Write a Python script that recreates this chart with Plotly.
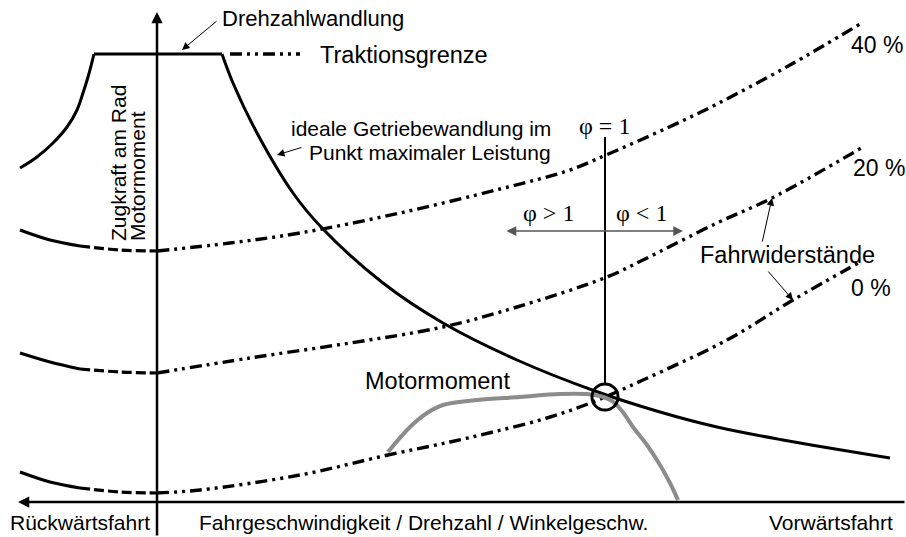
import plotly.graph_objects as go

# Coordinates: x = vehicle speed (reverse < 0 < forward), y = tractive force / torque.
# Axis origin is where the speed axis and the force axis cross.
X_RANGE = [-15.7, 74.9]
Y_RANGE = [-3.5, 50.2]

# Traction limit envelope (reverse branch, flat "Drehzahlwandlung" part, ideal transmission hyperbola)
trac_rev_x = [-13.7, -12.0, -10.4, -9.0, -8.0, -7.4, -6.9, -6.5, -6.3]
trac_rev_y = [33.4, 34.5, 35.9, 37.5, 39.2, 40.9, 42.5, 44.0, 44.8]
trac_flat_x = [-6.3, 6.5]
trac_flat_y = [44.8, 44.8]
hyper_x = [6.5, 7.6, 10.0, 13.6, 16.5, 22.6, 28.6, 36.0, 43.8, 50.3, 56.0, 62.6, 73.3]
hyper_y = [44.8, 41.9, 36.9, 30.9, 27.4, 21.9, 17.9, 14.2, 11.1, 9.0, 7.5, 6.2, 4.4]
trac_ext_x = [7.3, 14.3]
trac_ext_y = [44.8, 44.8]

# Driving resistance curves for 40 %, 20 % and 0 % grade
grade_labels = ["40 %", "20 %", "0 %"]
rev_x = [-13.7, -10.7, -7.7, -3.7, 0.0]
r40_rev_y = [27.2, 26.2, 25.6, 25.2, 25.1]
r20_rev_y = [14.9, 14.0, 13.3, 13.0, 12.9]
r0_rev_y = [3.0, 2.0, 1.4, 1.0, 0.9]
r40_x = [0.0, 7.3, 14.3, 24.3, 34.3, 41.0, 44.9, 51.0, 56.0, 63.3, 70.3]
r40_y = [25.1, 25.9, 26.9, 28.9, 31.3, 33.1, 34.7, 37.4, 39.8, 43.7, 47.8]
r20_x = [0.0, 9.3, 19.3, 28.6, 36.0, 45.0, 48.6, 56.0, 61.5, 70.6]
r20_y = [12.9, 14.4, 15.9, 17.5, 19.5, 22.5, 24.2, 27.9, 30.4, 35.5]
r0_x = [0.0, 4.3, 14.3, 23.1, 29.3, 33.6, 39.0, 43.6, 48.6, 57.0, 63.6, 70.3]
r0_y = [0.9, 1.2, 2.7, 4.7, 6.0, 7.0, 8.4, 10.0, 12.2, 16.2, 20.2, 24.0]

# Engine torque curve
motor_x = [23.1, 25.3, 27.0, 28.6, 32.0, 36.3, 40.3, 43.8, 45.5, 46.5, 47.6, 49.0, 50.3, 51.3, 52.1]
motor_y = [5.0, 7.5, 8.9, 9.7, 10.2, 10.5, 10.8, 10.7, 10.1, 9.1, 7.5, 5.7, 3.7, 1.9, 0.2]

# Operating point (phi = 1) where engine torque, hyperbola and 0 % resistance meet
op_x, op_y = 44.8, 10.5
op_r = 1.3

SANS = "Liberation Sans, Arial, sans-serif"
SERIF = "Liberation Serif, Times New Roman, serif"
BLACK = "#000000"
GREY = "#8c8c8c"
DASHDOT = "12px,5px,3px,5px,3px,5px"
LONGDASH = "10px,4px"

fig = go.Figure()


def add_line(x, y, width=3, color=BLACK, dash="solid", shape="spline"):
    fig.add_trace(go.Scatter(
        x=x, y=y, mode="lines", hoverinfo="skip",
        line=dict(color=color, width=width, dash=dash, shape=shape),
    ))


# traction envelope
add_line(trac_rev_x, trac_rev_y)
add_line(trac_flat_x, trac_flat_y, shape="linear")
add_line(hyper_x, hyper_y)
add_line(trac_ext_x, trac_ext_y, width=3.4, dash=DASHDOT, shape="linear")

# resistance curves: solid / dashed in reverse, dash-dot forward
for ry, fx, fy in [(r40_rev_y, r40_x, r40_y), (r20_rev_y, r20_x, r20_y), (r0_rev_y, r0_x, r0_y)]:
    add_line(rev_x[:3], ry[:3])
    add_line(rev_x[2:], ry[2:], width=3.2, dash=LONGDASH)
    add_line(fx, fy, width=3.4, dash=DASHDOT)

# engine torque
add_line(motor_x, motor_y, width=4, color=GREY)

shapes = [
    # phi = 1 marker line down to the operating point circle
    dict(type="line", xref="x", yref="y", x0=op_x, x1=op_x, y0=36.5, y1=op_y + op_r,
         line=dict(color=BLACK, width=2)),
    dict(type="circle", xref="x", yref="y", x0=op_x - op_r, x1=op_x + op_r,
         y0=op_y - op_r, y1=op_y + op_r, line=dict(color=BLACK, width=3)),
]

annotations = []


def arrow(x, y, ax, ay, width=1.0, head=2, size=1.5, color=BLACK, side="end"):
    annotations.append(dict(
        x=x, y=y, ax=ax, ay=ay, xref="x", yref="y", axref="x", ayref="y",
        text="", showarrow=True, arrowhead=head, startarrowhead=head,
        arrowsize=size, startarrowsize=size, arrowwidth=width,
        arrowcolor=color, arrowside=side, standoff=0, startstandoff=0,
    ))


def label(x, y, text, size=21, xanchor="left", yanchor="middle", family=SANS, angle=0):
    annotations.append(dict(
        x=x, y=y, xref="x", yref="y", text=text, showarrow=False,
        xanchor=xanchor, yanchor=yanchor, textangle=angle,
        font=dict(family=family, size=size, color=BLACK),
    ))


# axes with arrow heads
arrow(0.0, 49.0, 0.0, Y_RANGE[0], width=2.5, head=2, size=0.9)
arrow(-13.9, 0.0, X_RANGE[1], 0.0, width=2.5, head=2, size=0.9)

# pointer arrows
arrow(2.5, 45.2, 6.1, 48.2)
arrow(12.0, 34.7, 14.6, 35.5)
arrow(61.5, 30.4, 60.5, 25.9)
arrow(63.6, 20.2, 61.0, 23.2)
arrow(52.6, 27.1, 34.8, 27.1, width=1.5, color="#555555", side="end+start", size=1.3)

# text
label(6.3, 48.4, "Drehzahlwandlung", size=22)
label(16.1, 44.7, "Traktionsgrenze", size=23.5)
label(39.6, 37.4, "ideale Getriebewandlung im", xanchor="right")
label(39.6, 35.0, "Punkt maximaler Leistung", xanchor="right")
label(44.7, 37.6, "φ = 1", size=24, xanchor="center", family=SERIF)
label(39.1, 28.9, "φ > 1", size=24, xanchor="center", family=SERIF)
label(48.4, 28.9, "φ < 1", size=24, xanchor="center", family=SERIF)
label(54.1, 24.7, "Fahrwiderstände", size=23.5)
label(69.2, 45.7, grade_labels[0], size=23)
label(69.4, 33.4, grade_labels[1], size=23)
label(69.2, 21.4, grade_labels[2], size=23)
label(20.6, 12.1, "Motormoment", size=23.5)
label(-3.9, 25.9, "Zugkraft am Rad", xanchor="center", yanchor="bottom", angle=-90)
label(-2.0, 25.9, "Motormoment", xanchor="center", yanchor="bottom", angle=-90)
label(-14.9, -2.0, "Rückwärtsfahrt")
label(4.0, -2.0, "Fahrgeschwindigkeit / Drehzahl / Winkelgeschw.")
label(73.8, -2.0, "Vorwärtsfahrt", xanchor="right")

fig.update_layout(
    width=906, height=537,
    margin=dict(l=0, r=0, t=0, b=0),
    paper_bgcolor="white", plot_bgcolor="white",
    showlegend=False,
    shapes=shapes, annotations=annotations,
    xaxis=dict(range=X_RANGE, visible=False, fixedrange=True),
    yaxis=dict(range=Y_RANGE, visible=False, fixedrange=True),
)

fig.write_html("out.html", config={"displayModeBar": False})
